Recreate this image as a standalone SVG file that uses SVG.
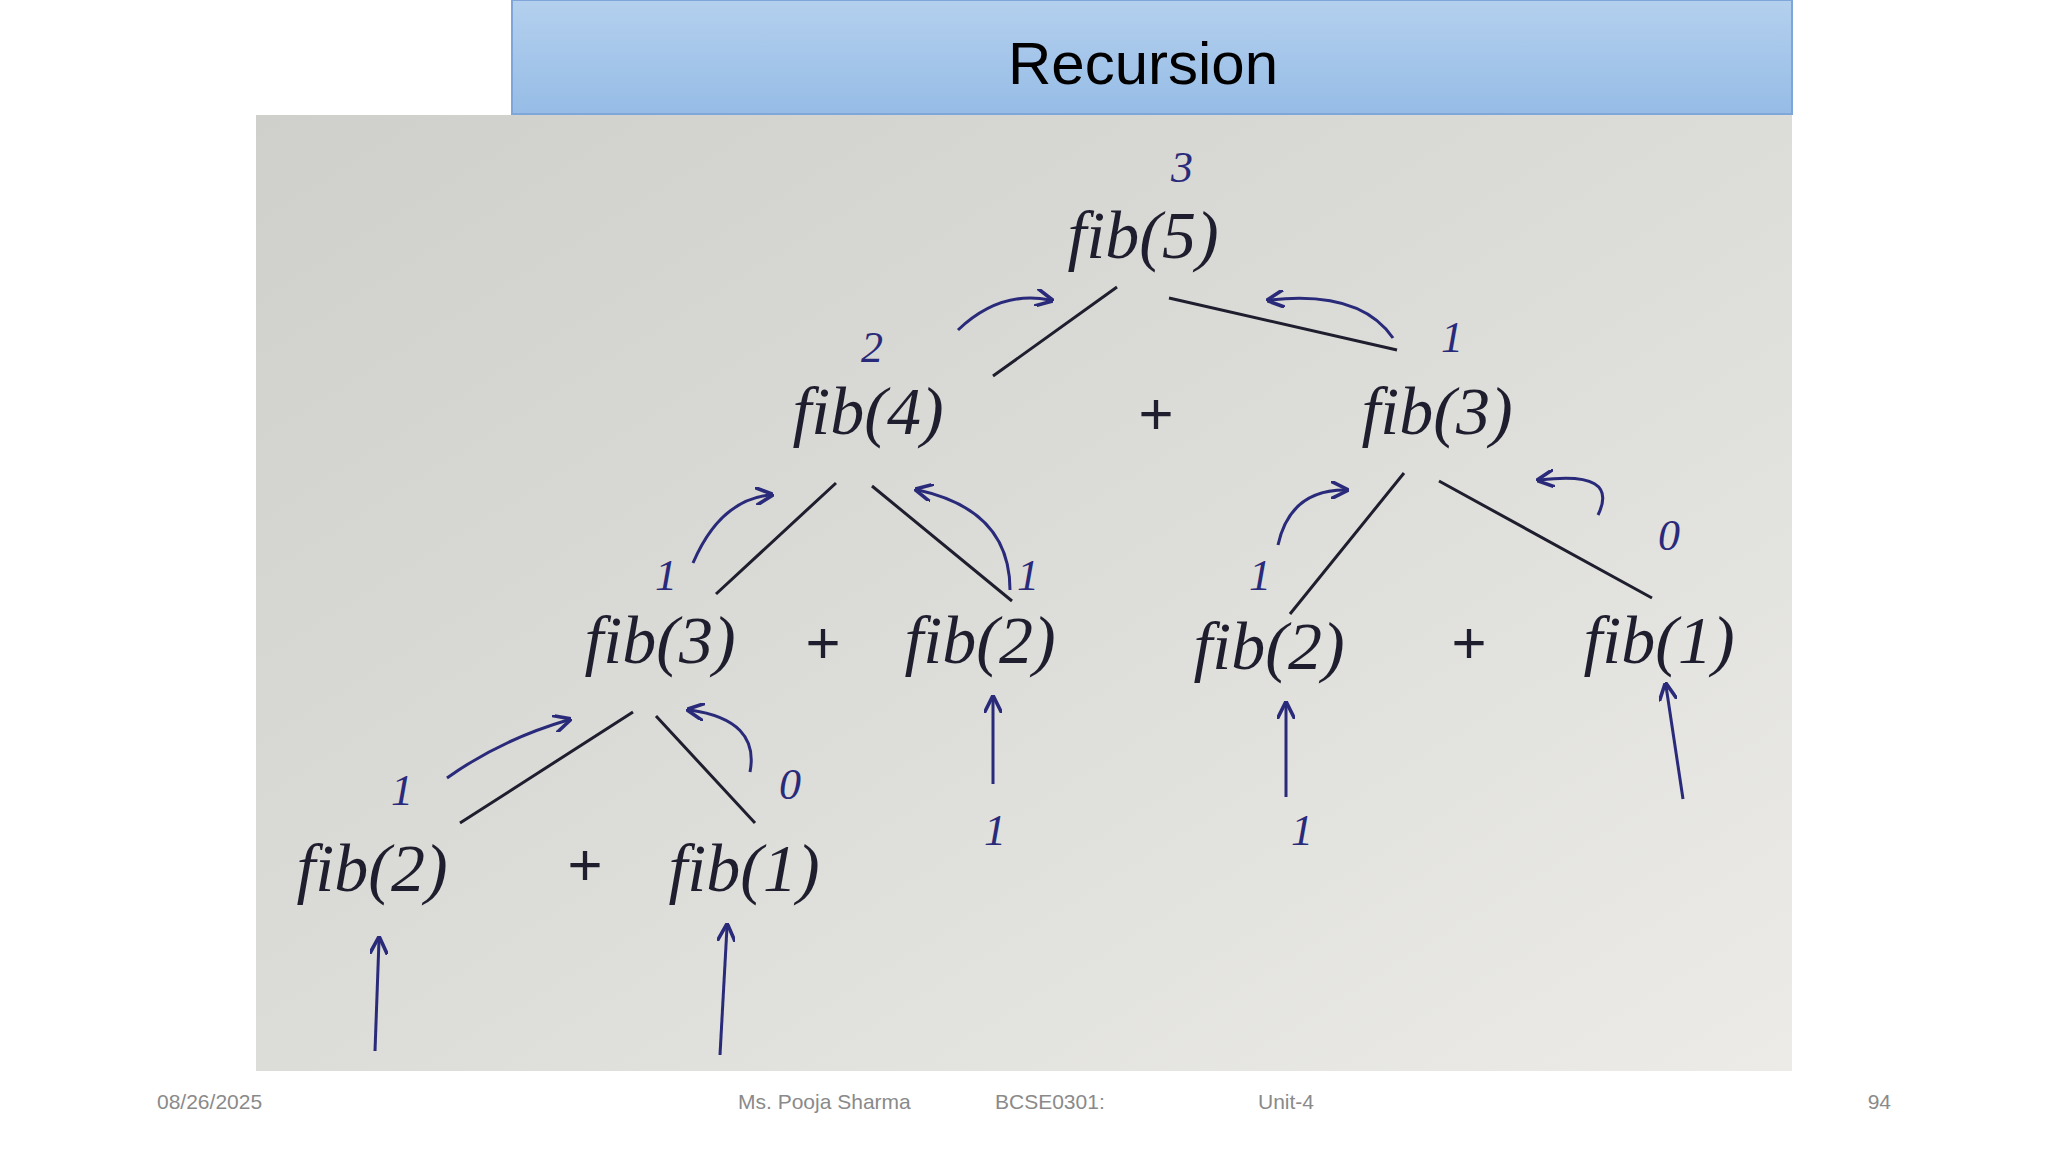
<svg xmlns="http://www.w3.org/2000/svg" width="2048" height="1152" viewBox="0 0 2048 1152">
<defs>
<linearGradient id="hdr" x1="0" y1="0" x2="0" y2="1"><stop offset="0" stop-color="#b4d0ee"/><stop offset="1" stop-color="#96bce6"/></linearGradient>
<linearGradient id="ph" x1="0" y1="0" x2="1" y2="1"><stop offset="0" stop-color="#cfcfcb"/><stop offset="0.5" stop-color="#dcdcd8"/><stop offset="1" stop-color="#ecebe8"/></linearGradient>
<marker id="ah" viewBox="0 0 10 10" refX="8" refY="5" markerWidth="6" markerHeight="6" orient="auto"><path d="M0,0 L10,5 L0,10" fill="none" stroke="#2a2a7a" stroke-width="2"/></marker>
</defs>
<style>
.h{font-family:"Liberation Serif",serif;font-style:italic;font-size:68px;fill:#1e1e2e}
.n{font-family:"Liberation Serif",serif;font-style:italic;font-size:44px;fill:#2a2a7a}
.p{font-family:"Liberation Sans",sans-serif;font-size:60px;fill:#1e1e2e}
.ln{stroke:#1e1e2e;stroke-width:3;fill:none}
.bl{stroke:#2a2a7a;stroke-width:3;fill:none;marker-end:url(#ah)}
.f{font-family:"Liberation Sans",sans-serif;font-size:21px;fill:#8a8a8a}
</style>
<rect width="2048" height="1152" fill="#fff"/>
<g id="header"><rect x="512" y="0" width="1280" height="114" fill="url(#hdr)" stroke="#7ea6d8" stroke-width="2"/>
<text x="1143" y="84" font-family="Liberation Sans, sans-serif" font-size="60" text-anchor="middle" fill="#000">Recursion</text></g>
<g id="photo"><rect x="256" y="115" width="1536" height="956" fill="url(#ph)"/></g>
<g id="nodes" text-anchor="middle">
<g id="n5"><text class="h" x="1143" y="258">fib(5)</text><text class="n" x="1182" y="182">3</text></g>
<g id="n4"><text class="h" x="868" y="434">fib(4)</text><text class="n" x="872" y="362">2</text></g>
<text class="p" x="1156" y="434">+</text>
<g id="n3r"><text class="h" x="1437" y="434">fib(3)</text><text class="n" x="1452" y="352">1</text></g>
<g id="n3l"><text class="h" x="660" y="663">fib(3)</text><text class="n" x="666" y="590">1</text></g>
<text class="p" x="823" y="663">+</text>
<g id="n2a"><text class="h" x="980" y="663">fib(2)</text><text class="n" x="1028" y="590">1</text><text class="n" x="995" y="845">1</text></g>
<g id="n2b"><text class="h" x="1269" y="669">fib(2)</text><text class="n" x="1260" y="590">1</text><text class="n" x="1302" y="845">1</text></g>
<text class="p" x="1469" y="663">+</text>
<g id="n1a"><text class="h" x="1659" y="663">fib(1)</text><text class="n" x="1669" y="550">0</text></g>
<g id="n2c"><text class="h" x="372" y="891">fib(2)</text><text class="n" x="402" y="805">1</text></g>
<text class="p" x="585" y="885">+</text>
<g id="n1b"><text class="h" x="744" y="891">fib(1)</text><text class="n" x="790" y="799">0</text></g>
</g>
<g id="connectors">
<path class="ln" d="M1117,287 L993,376 M1169,298 L1397,350 M836,483 L716,594 M872,486 L1012,601 M1404,473 L1290,614 M1439,481 L1652,598 M633,712 L460,823 M656,716 L755,823"/>
<path class="bl" d="M375,1051 L379,940"/>
<path class="bl" d="M720,1055 L727,927"/>
<path class="bl" d="M993,784 L993,699"/>
<path class="bl" d="M1286,797 L1286,705"/>
<path class="bl" d="M1683,799 L1666,686"/>
<path class="bl" d="M958,330 Q1000,290 1050,300"/>
<path class="bl" d="M1393,338 Q1360,290 1270,300"/>
<path class="bl" d="M693,563 Q720,500 770,495"/>
<path class="bl" d="M1010,590 Q1010,510 918,490"/>
<path class="bl" d="M1278,545 Q1290,490 1345,490"/>
<path class="bl" d="M1598,515 Q1620,470 1540,480"/>
<path class="bl" d="M447,778 Q500,740 568,720"/>
<path class="bl" d="M750,772 Q760,720 690,710"/>
</g>
<g id="footer">
<text class="f" x="157" y="1109">08/26/2025</text>
<text class="f" x="738" y="1109">Ms. Pooja Sharma</text>
<text class="f" x="995" y="1109">BCSE0301:</text>
<text class="f" x="1258" y="1109">Unit-4</text>
<text class="f" x="1891" y="1109" text-anchor="end">94</text>
</g>
</svg>
